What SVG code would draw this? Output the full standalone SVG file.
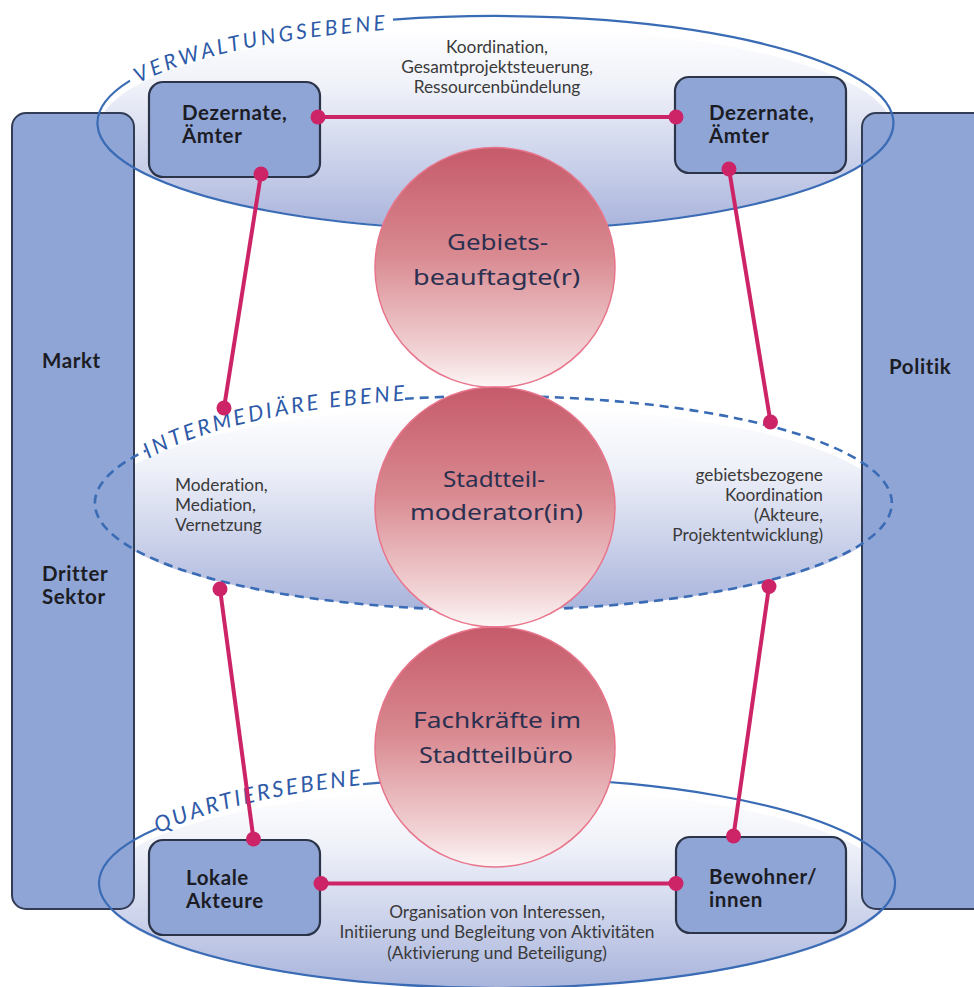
<svg xmlns="http://www.w3.org/2000/svg" width="974" height="987" viewBox="0 0 974 987">
  <defs>
    <linearGradient id="levelFill" x1="0" y1="0" x2="0" y2="1">
      <stop offset="0" stop-color="#ffffff"/>
      <stop offset="0.3" stop-color="#eff1f9"/>
      <stop offset="1" stop-color="#a9b4dc"/>
    </linearGradient>
    <linearGradient id="roleFill" x1="0" y1="0" x2="0" y2="1">
      <stop offset="0" stop-color="#c65a6a"/>
      <stop offset="0.45" stop-color="#d98a91"/>
      <stop offset="0.85" stop-color="#f1d3d5"/>
      <stop offset="1" stop-color="#fdf6f6"/>
    </linearGradient>
    <style>
      text { font-variant-ligatures: none; }
      .bar { fill: #8fa5d6; stroke: #323c55; stroke-width: 2; }
      .box { fill: #8fa5d6; stroke: #2c3449; stroke-width: 2.2; }
      .lvl-fill { fill: url(#levelFill); }
      .lvl-line { fill: none; stroke: #3a6bb5; stroke-width: 2.2; }
      .lvl-dash { fill: none; stroke: #3a6bb5; stroke-width: 2.6; stroke-dasharray: 9 6; }
      .lvl-label { font-family: Lato, "Liberation Sans", sans-serif; fill: #2e5aa8; font-style: italic; }
      .role { fill: url(#roleFill); stroke: #e8758c; stroke-width: 1.5; }
      .role-text { font-family: "Noto Sans", "DejaVu Sans", sans-serif; font-size: 22px; fill: #2b3050; }
      .label { font-family: Lato, "Liberation Sans", sans-serif; font-size: 20.5px; font-weight: bold; fill: #1c1c24; letter-spacing: 0.6px; }
      .note { font-family: Lato, "Liberation Sans", sans-serif; font-size: 17.3px; fill: #3a3a3a; }
      .link { stroke: #cd2468; stroke-width: 4; fill: none; }
      .dot { fill: #cd2468; }
    </style>
    <!-- baselines for the curved level names -->
    <path id="pathVerwaltung" d="M 135 85.4 A 394 100 0 0 1 400 29"/>
    <path id="pathIntermediaer" d="M 146 460.3 A 385 108.6 0 0 1 410 400"/>
    <path id="pathQuartier" d="M 156 834.9 A 390 106.7 0 0 1 370 784"/>
  </defs>

  <rect width="974" height="987" fill="#ffffff"/>

  <!-- level areas (fills) -->
  <g id="level-fills">
    <ellipse class="lvl-fill" cx="495.5" cy="128" rx="396" ry="101"/>
    <ellipse class="lvl-fill" cx="493.5" cy="508" rx="397" ry="102"/>
    <ellipse class="lvl-fill" cx="497" cy="888" rx="396" ry="100"/>
  </g>

  <!-- side columns -->
  <g id="markt-sektor">
    <rect class="bar" x="12" y="113" width="122" height="796" rx="14"/>
    <text class="label" x="42" y="368">Markt</text>
    <text class="label" x="42" y="581">Dritter</text>
    <text class="label" x="42" y="604">Sektor</text>
  </g>
  <g id="politik">
    <rect class="bar" x="862" y="113" width="140" height="796" rx="14"/>
    <text class="label" x="889" y="374">Politik</text>
  </g>

  <!-- level outlines and names -->
  <g id="verwaltungsebene">
    <path class="lvl-line" d="M 393 19.6 A 398 107 0 1 1 130 80.6"/>
    <text class="lvl-label" font-size="21" letter-spacing="3.3"><textPath href="#pathVerwaltung" startOffset="4">VERWALTUNGSEBENE</textPath></text>
    <text class="note" text-anchor="middle"><tspan x="497" y="53">Koordination,</tspan><tspan x="497" y="73">Gesamtprojektsteuerung,</tspan><tspan x="497" y="93">Ressourcenbündelung</tspan></text>
  </g>
  <g id="intermediaere-ebene">
    <path class="lvl-dash" d="M 405 398.7 A 398.5 107 0 1 1 146 450.6"/>
    <text class="lvl-label" font-size="21.5" letter-spacing="3"><textPath href="#pathIntermediaer" startOffset="3">INTERMEDIÄRE EBENE</textPath></text>
    <text class="note"><tspan x="175" y="491">Moderation,</tspan><tspan x="175" y="511">Mediation,</tspan><tspan x="175" y="531">Vernetzung</tspan></text>
    <text class="note" text-anchor="end"><tspan x="823" y="481">gebietsbezogene</tspan><tspan x="823" y="501">Koordination</tspan><tspan x="823" y="521">(Akteure,</tspan><tspan x="823" y="541">Projektentwicklung)</tspan></text>
  </g>
  <g id="quartiersebene">
    <path class="lvl-line" d="M 363 784.1 A 398 105 0 1 1 157 828.4"/>
    <text class="lvl-label" font-size="22" letter-spacing="2.6"><textPath href="#pathQuartier" startOffset="3">QUARTIERSEBENE</textPath></text>
    <text class="note" text-anchor="middle"><tspan x="497" y="918">Organisation von Interessen,</tspan><tspan x="497" y="938">Initiierung und Begleitung von Aktivitäten</tspan><tspan x="497" y="959">(Aktivierung und Beteiligung)</tspan></text>
  </g>

  <!-- actors -->
  <g id="dezernate-links">
    <rect class="box" x="149" y="82" width="171" height="95" rx="14"/>
    <text class="label" x="182" y="120">Dezernate,</text>
    <text class="label" x="182" y="143">Ämter</text>
  </g>
  <g id="dezernate-rechts">
    <rect class="box" x="675" y="77" width="171" height="96" rx="14"/>
    <text class="label" x="709" y="120">Dezernate,</text>
    <text class="label" x="709" y="143">Ämter</text>
  </g>
  <g id="lokale-akteure">
    <rect class="box" x="149" y="840" width="171" height="95" rx="14"/>
    <text class="label" x="186" y="884.5">Lokale</text>
    <text class="label" x="186" y="907.5">Akteure</text>
  </g>
  <g id="bewohner">
    <rect class="box" x="676" y="837" width="170" height="96" rx="14"/>
    <text class="label" x="709" y="884">Bewohner/</text>
    <text class="label" x="709" y="907">innen</text>
  </g>

  <!-- mediating roles -->
  <g id="gebietsbeauftragte">
    <circle class="role" cx="495" cy="267.5" r="120"/>
    <text class="role-text" x="447" y="250" textLength="101" lengthAdjust="spacingAndGlyphs">Gebiets-</text>
    <text class="role-text" x="413" y="285" textLength="167" lengthAdjust="spacingAndGlyphs">beauftagte(r)</text>
  </g>
  <g id="stadtteilmoderator">
    <circle class="role" cx="495" cy="507" r="120"/>
    <text class="role-text" x="443" y="487" textLength="102" lengthAdjust="spacingAndGlyphs">Stadtteil-</text>
    <text class="role-text" x="410" y="520" textLength="173" lengthAdjust="spacingAndGlyphs">moderator(in)</text>
  </g>
  <g id="fachkraefte">
    <circle class="role" cx="495" cy="747" r="120"/>
    <text class="role-text" x="413" y="728" textLength="168" lengthAdjust="spacingAndGlyphs">Fachkräfte im</text>
    <text class="role-text" x="419" y="763" textLength="154" lengthAdjust="spacingAndGlyphs">Stadtteilbüro</text>
  </g>

  <!-- connectors -->
  <g id="connectors">
    <line class="link" x1="318" y1="117" x2="676" y2="117"/>
    <line class="link" x1="261" y1="174" x2="224" y2="408"/>
    <line class="link" x1="729" y1="169" x2="770.5" y2="422"/>
    <line class="link" x1="220" y1="589" x2="253.5" y2="839"/>
    <line class="link" x1="769" y1="586.5" x2="733.5" y2="836"/>
    <line class="link" x1="321" y1="883.5" x2="676" y2="883.5"/>
    <circle class="dot" cx="318" cy="117" r="7.5"/>
    <circle class="dot" cx="676" cy="117" r="7.5"/>
    <circle class="dot" cx="261" cy="174" r="7.5"/>
    <circle class="dot" cx="224" cy="408" r="7.5"/>
    <circle class="dot" cx="729" cy="169" r="7.5"/>
    <circle class="dot" cx="770.5" cy="422" r="7.5"/>
    <circle class="dot" cx="220" cy="589" r="7.5"/>
    <circle class="dot" cx="253.5" cy="839" r="7.5"/>
    <circle class="dot" cx="769" cy="586.5" r="7.5"/>
    <circle class="dot" cx="733.5" cy="836" r="7.5"/>
    <circle class="dot" cx="321" cy="883.5" r="7.5"/>
    <circle class="dot" cx="676" cy="883.5" r="7.5"/>
  </g>
</svg>
